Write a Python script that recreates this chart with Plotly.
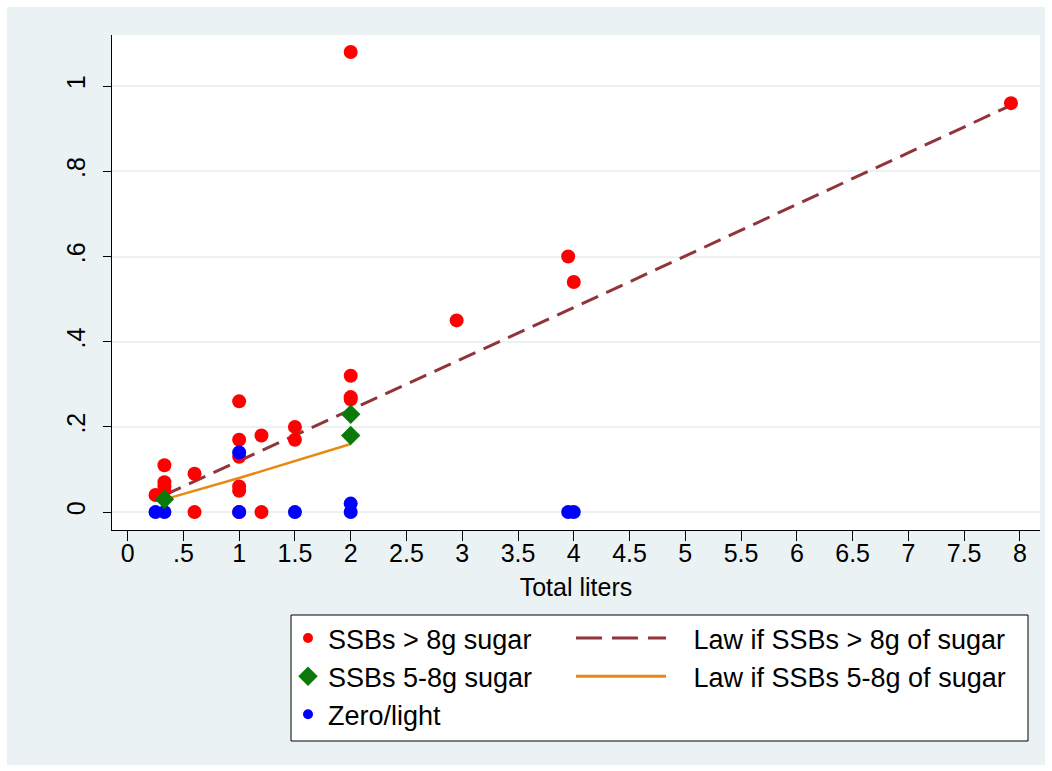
import plotly.graph_objects as go

# ---------------- data ----------------
red_x = [0.25, 0.33, 0.33, 0.33, 0.33, 0.6, 0.6, 1, 1, 1, 1, 1, 1, 1.2, 1.2, 1.5, 1.5, 2, 2, 2, 2, 2.95, 3.95, 4.0, 7.92]
red_y = [0.04, 0.11, 0.07, 0.06, 0.05, 0.09, 0, 0.26, 0.17, 0.13, 0.06, 0.05, 0, 0.18, 0, 0.2, 0.17, 1.08, 0.32, 0.27, 0.265, 0.45, 0.6, 0.54, 0.96]

green_x = [0.33, 2, 2]
green_y = [0.03, 0.23, 0.18]

blue_x = [0.25, 0.33, 1, 1, 1.5, 2, 2, 3.95, 4.0]
blue_y = [0, 0, 0, 0.14, 0, 0, 0.02, 0, 0]

law8_x = [0.33, 1, 2, 4, 7.92]
law8_y = [0.04, 0.12, 0.24, 0.48, 0.955]

law5_x = [0.33, 1, 2]
law5_y = [0.03, 0.08, 0.16]

x_ticks = [0, 0.5, 1, 1.5, 2, 2.5, 3, 3.5, 4, 4.5, 5, 5.5, 6, 6.5, 7, 7.5, 8]
x_ticktext = ["0", ".5", "1", "1.5", "2", "2.5", "3", "3.5", "4", "4.5", "5", "5.5", "6", "6.5", "7", "7.5", "8"]
y_ticks = [0, 0.2, 0.4, 0.6, 0.8, 1]
y_ticktext = ["0", ".2", ".4", ".6", ".8", "1"]

names = ["SSBs > 8g sugar", "SSBs 5-8g sugar", "Zero/light",
         "Law if SSBs > 8g of sugar", "Law if SSBs 5-8g of sugar"]

# ---------------- style ----------------
FONT = "Liberation Sans, Arial, sans-serif"
FS = 25
LFS = 27
GRAY = "#EAF2F3"
RED = "#FF0000"
GREEN = "#0B7A0B"
BLUE = "#0000FF"
MAROON = "#90353B"
ORANGE = "#E88A12"
PAD = "\u00a0\u00a0\u00a0"

W, H = 1052, 771
L, R, T, B = 112, 12, 35, 241
pw, ph = W - L - R, H - T - B


def px2x(px):
    return (px - L) / pw


def py2y(py):
    return (H - B - py) / ph


fig = go.Figure()

# data traces (no legend)
fig.add_trace(go.Scatter(x=law8_x, y=law8_y, mode="lines", showlegend=False,
                         line=dict(color=MAROON, width=3, dash="18px,9px")))
fig.add_trace(go.Scatter(x=law5_x, y=law5_y, mode="lines", showlegend=False,
                         line=dict(color=ORANGE, width=2.5)))
fig.add_trace(go.Scatter(x=red_x, y=red_y, mode="markers", showlegend=False,
                         marker=dict(color=RED, size=14, line=dict(width=0))))
fig.add_trace(go.Scatter(x=blue_x, y=blue_y, mode="markers", showlegend=False,
                         marker=dict(color=BLUE, size=14, line=dict(width=0))))
fig.add_trace(go.Scatter(x=green_x, y=green_y, mode="markers", showlegend=False,
                         marker=dict(color=GREEN, size=15, symbol="diamond", line=dict(width=0))))

# legend-only traces
fig.add_trace(go.Scatter(x=[None], y=[None], mode="markers", name=names[0], legend="legend",
                         legendgroup="a", marker=dict(color=RED, size=10)))
fig.add_trace(go.Scatter(x=[None], y=[None], mode="markers", name=names[1], legend="legend",
                         legendgroup="b", marker=dict(color=GREEN, size=15, symbol="diamond")))
fig.add_trace(go.Scatter(x=[None], y=[None], mode="markers", name=names[2], legend="legend",
                         legendgroup="c", marker=dict(color=BLUE, size=10)))
fig.add_trace(go.Scatter(x=[None], y=[None], mode="lines", name=PAD + names[3], legend="legend2",
                         legendgroup="d", line=dict(color=MAROON, width=3, dash="26px,10px")))
fig.add_trace(go.Scatter(x=[None], y=[None], mode="lines", name=PAD + names[4], legend="legend2",
                         legendgroup="e", line=dict(color=ORANGE, width=3)))

shapes = [
    # gray graph region
    dict(type="rect", xref="paper", yref="paper", layer="below",
         x0=px2x(7), x1=px2x(1045), y0=py2y(765), y1=py2y(7),
         fillcolor=GRAY, line=dict(width=0)),
    # white plot region
    dict(type="rect", xref="paper", yref="paper", layer="below",
         x0=0, x1=1, y0=0, y1=1, fillcolor="white", line=dict(width=0)),
    # legend box
    dict(type="rect", xref="paper", yref="paper", layer="below",
         x0=px2x(291), x1=px2x(1028), y0=py2y(741), y1=py2y(615),
         fillcolor="white", line=dict(color="black", width=1)),
]

legend_common = dict(bgcolor="rgba(0,0,0,0)", borderwidth=0, font=dict(family=FONT, size=LFS, color="black"),
                     orientation="v", xanchor="left", yanchor="top", tracegroupgap=2, traceorder="normal")

fig.update_layout(
    width=W, height=H,
    margin=dict(l=L, r=R, t=T, b=B),
    paper_bgcolor="white",
    plot_bgcolor="white",
    font=dict(family=FONT, size=FS, color="black"),
    shapes=shapes,
    legend=dict(x=px2x(288), y=py2y(614), **legend_common),
    legend2=dict(x=px2x(571), y=py2y(614), itemwidth=90, **legend_common),
    xaxis=dict(range=[-0.14, 8.18], tickvals=x_ticks, ticktext=x_ticktext,
               ticks="outside", ticklen=10, tickwidth=1, tickcolor="black",
               ticklabelstandoff=-9,
               showgrid=False, zeroline=False, showline=True, linecolor="black", linewidth=1,
               title=dict(text="Total liters", standoff=12, font=dict(size=FS)),
               tickfont=dict(size=FS)),
    yaxis=dict(range=[-0.042, 1.12], tickvals=y_ticks, ticktext=y_ticktext, tickangle=-90,
               ticks="outside", ticklen=8, tickwidth=1, tickcolor="black",
               ticklabelstandoff=8,
               showgrid=True, gridcolor=GRAY, gridwidth=2, zeroline=False,
               showline=True, linecolor="black", linewidth=1, tickfont=dict(size=FS)),
)

fig.write_html("out.html", config={"displayModeBar": False},
               post_script="document.body.style.margin='0';")
